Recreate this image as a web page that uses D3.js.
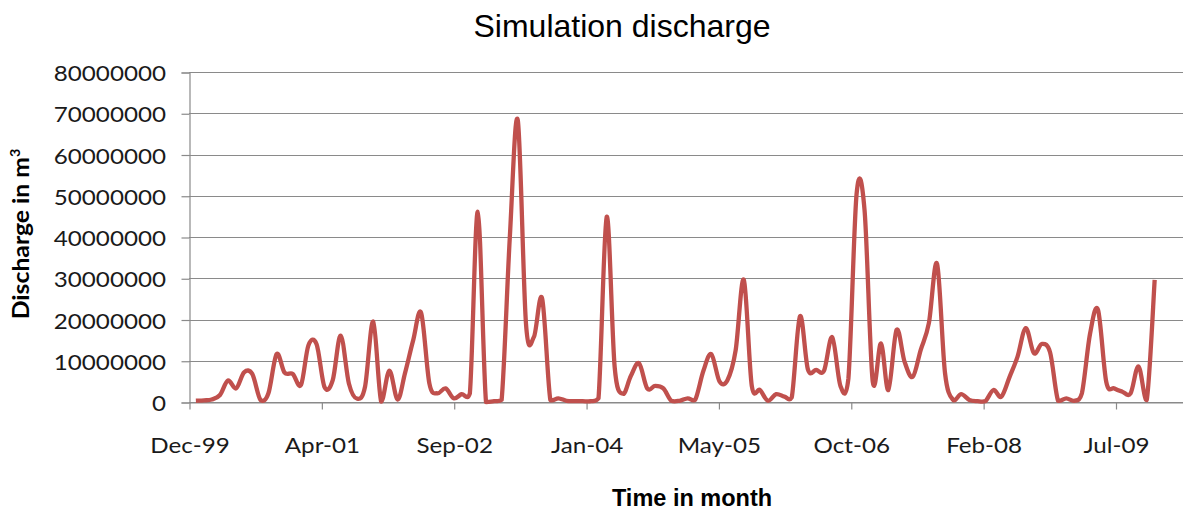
<!DOCTYPE html>
<html>
<head>
<meta charset="utf-8">
<script src="https://cdn.jsdelivr.net/npm/d3@7/dist/d3.min.js"></script>
<style>
  body { margin: 0; background: #fff; }
  svg { display: block; }
</style>
</head>
<body>
<svg id="chart" width="1183" height="511"></svg>
<script>
// simulated monthly discharge in million m3, one value per month from Jan-2000
var dischargeMillions = [
    0.3, 0.4, 0.6, 1.7, 5.2, 3.3, 7.2, 6.8, 0.5, 2.1, 11.6, 7.1,
    6.8, 4.1, 13.7, 14.0, 3.6, 5.3, 16.1, 4.5, 0.8, 3.7, 19.5, 0.1,
    7.6, 0.6, 7.0, 15.0, 21.6, 4.5, 2.1, 3.3, 0.9, 1.9, 2.1, 46.1,
    0.0, 0.2, 0.5, 40.0, 68.3, 19.0, 15.8, 25.1, 0.5, 0.9, 0.3, 0.2,
    0.2, 0.2, 0.9, 44.9, 8.5, 2.0, 6.3, 9.4, 3.3, 3.9, 3.3, 0.3,
    0.3, 0.9, 0.5, 7.5, 11.6, 5.0, 5.3, 12.5, 29.6, 3.9, 2.9, 0.3,
    1.9, 1.3, 1.1, 20.8, 7.9, 7.8, 7.6, 15.7, 3.9, 5.7, 50.5, 46.5,
    4.9, 14.2, 2.9, 17.5, 9.8, 6.1, 12.6, 19.1, 33.5, 7.0, 0.5, 1.9,
    0.5, 0.2, 0.2, 2.9, 1.3, 6.1, 11.0, 17.9, 11.8, 14.1, 12.0, 0.3,
    0.9, 0.3, 2.1, 16.6, 22.3, 4.9, 3.3, 2.5, 2.1, 8.6, 0.5, 29.6
];
var firstMonth = new Date(2000, 0, 1);

// date axis: one label every 500 days
var axisStart = new Date(1999, 11, 6);
var tickStepDays = 500;
var tickLabels = ['Dec-99', 'Apr-01', 'Sep-02', 'Jan-04', 'May-05', 'Oct-06', 'Feb-08', 'Jul-09'];
var yTicks = [0, 10000000, 20000000, 30000000, 40000000, 50000000, 60000000, 70000000, 80000000];

var svg = d3.select('#chart'),
    margin = { top: 72, right: 0, bottom: 109, left: 189 },
    width = +svg.attr('width') - margin.left - margin.right,
    height = +svg.attr('height') - margin.top - margin.bottom,
    stretch = 1.1,
    gridColor = '#8a8a8a',
    lineColor = '#c0504d';

var data = dischargeMillions.map(function (v, i) {
    return { date: d3.timeMonth.offset(firstMonth, i), value: v * 1e6 };
});

var x = d3.scaleTime()
    .domain([axisStart, d3.timeDay.offset(axisStart, 3755)])
    .range([0, width]);

var y = d3.scaleLinear()
    .domain([0, 80000000])
    .range([height, 0]);

var tickDates = tickLabels.map(function (d, i) { return d3.timeDay.offset(axisStart, i * tickStepDays); });

//smoothed line like the spreadsheet one, but the bezier handles never drop under zero
function smoothPath(pts) {
    var p = d3.path(), floor = y(0), n = pts.length;
    p.moveTo(pts[0][0], pts[0][1]);
    for (var i = 0; i < n - 1; i++) {
        var p0 = pts[Math.max(i - 1, 0)], p1 = pts[i], p2 = pts[i + 1], p3 = pts[Math.min(i + 2, n - 1)];
        p.bezierCurveTo(
            p1[0] + (p2[0] - p0[0]) / 6, Math.min(floor, p1[1] + (p2[1] - p0[1]) / 6),
            p2[0] - (p3[0] - p1[0]) / 6, Math.min(floor, p2[1] - (p3[1] - p1[1]) / 6),
            p2[0], p2[1]);
    }
    return p.toString();
}

var g = svg.append('g').attr('transform', 'translate(' + margin.left + ',' + margin.top + ')');

//horizontal gridlines
g.append('g').selectAll('line')
    .data(yTicks)
    .enter().append('line')
    .attr('x1', 0).attr('x2', width)
    .attr('y1', function (d) { return Math.round(y(d)) + 0.5; })
    .attr('y2', function (d) { return Math.round(y(d)) + 0.5; })
    .attr('stroke', gridColor)
    .attr('stroke-width', 1.2);

//y axis
var yAxis = g.append('g')
    .attr('transform', 'translate(0.5,0.5)')
    .call(d3.axisLeft(y).tickValues(yTicks).tickSize(8).tickFormat(d3.format('d')));
yAxis.select('.domain').attr('stroke', gridColor).attr('stroke-width', 1.2);
yAxis.selectAll('.tick line').attr('stroke', gridColor).attr('stroke-width', 1.2);
yAxis.selectAll('text')
    .attr('x', -23.5 / stretch)
    .attr('dy', '0.37em')
    .attr('transform', 'scale(' + stretch + ',1)')
    .style('font-family', 'Lato, "Open Sans", sans-serif')
    .style('font-size', '22px')
    .attr('fill', '#1a1a1a');

//x axis
var xAxis = g.append('g')
    .attr('transform', 'translate(0.5,' + (height + 0.5) + ')')
    .call(d3.axisBottom(x).tickValues(tickDates).tickSize(7).tickSizeOuter(0)
        .tickFormat(function (d, i) { return tickLabels[i]; }));
xAxis.select('.domain').attr('stroke', gridColor).attr('stroke-width', 1.2);
xAxis.selectAll('.tick line').attr('stroke', gridColor).attr('stroke-width', 1.2);
xAxis.selectAll('text')
    .attr('y', 51)
    .attr('dy', 0)
    .attr('transform', 'scale(' + stretch + ',1)')
    .style('font-family', 'Lato, "Open Sans", sans-serif')
    .style('font-size', '22px')
    .attr('fill', '#1a1a1a');

//clip the line to the plot area
svg.append('defs').append('clipPath').attr('id', 'plotClip')
    .append('rect')
    .attr('x', 0).attr('y', -5)
    .attr('width', width).attr('height', height + 8);

var points = data.map(function (d) { return [x(d.date), y(d.value)]; });

g.append('path')
    .attr('clip-path', 'url(#plotClip)')
    .attr('fill', 'none')
    .attr('stroke', lineColor)
    .attr('stroke-width', 4.3)
    .attr('stroke-linejoin', 'round')
    .attr('d', smoothPath(points));

//titles
svg.append('text')
    .attr('x', 622).attr('y', 37)
    .attr('text-anchor', 'middle')
    .style('font-family', '"Liberation Sans", Arial, sans-serif')
    .style('font-size', '32px')
    .text('Simulation discharge');

svg.append('text')
    .attr('x', 692).attr('y', 506)
    .attr('text-anchor', 'middle')
    .style('font-family', '"Liberation Sans", Arial, sans-serif')
    .style('font-size', '23.5px')
    .style('font-weight', 'bold')
    .text('Time in month');

var yTitle = svg.append('text')
    .attr('transform', 'translate(29,234) rotate(-90) scale(' + stretch + ',1)')
    .attr('text-anchor', 'middle')
    .style('font-family', 'Lato, "Open Sans", sans-serif')
    .style('font-size', '22.5px')
    .style('font-weight', 'bold');
yTitle.append('tspan').text('Discharge in m');
yTitle.append('tspan')
    .attr('dy', -9)
    .style('font-size', '13px')
    .text('3');
</script>
</body>
</html>
